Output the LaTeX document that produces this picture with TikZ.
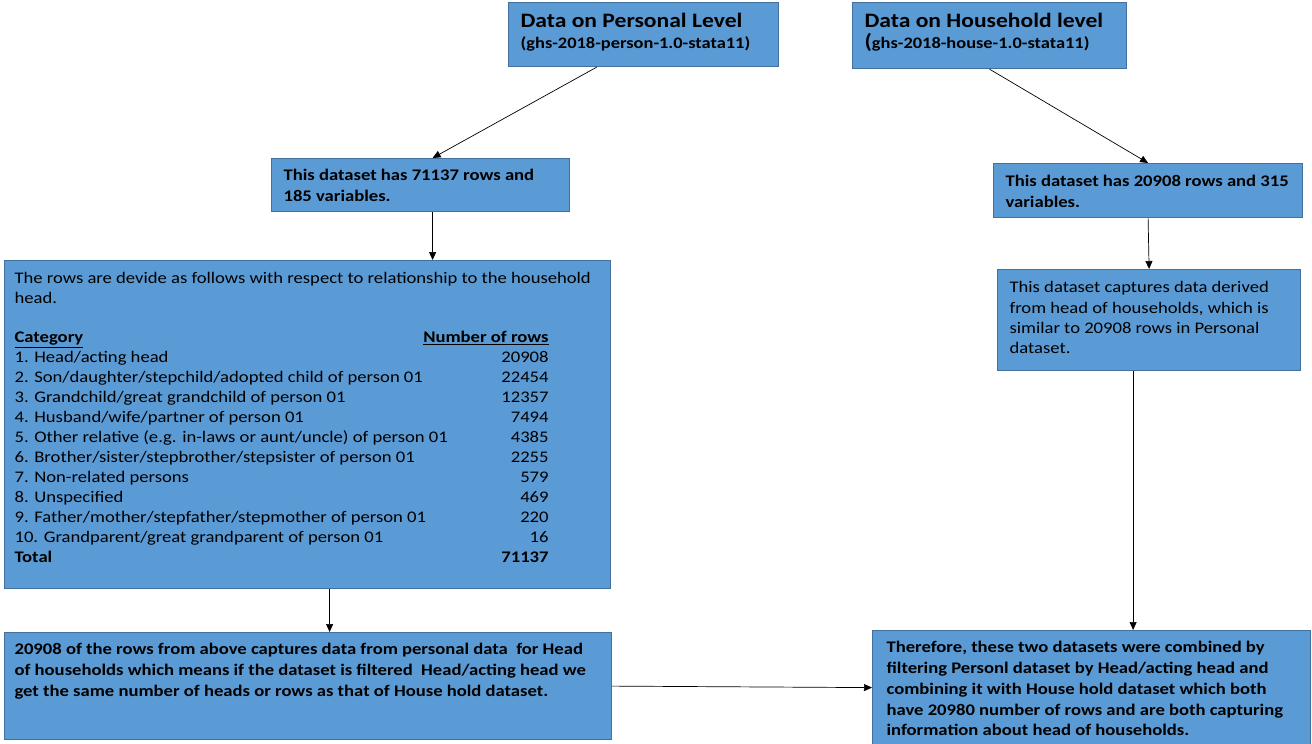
\documentclass[tikz,border=0pt]{standalone}
\usepackage{fontspec}
\setmainfont{Carlito}[FakeStretch=1.15]
\usetikzlibrary{arrows.meta,positioning,calc}
\definecolor{boxfill}{RGB}{91,155,213}
\definecolor{boxline}{RGB}{65,113,156}
% fixed-size text body inside a box
\newcommand\boxbody[3]{\begin{minipage}[c][#2][t]{#1}\raggedright #3\end{minipage}}

\begin{document}
\begin{tikzpicture}[x=1pt, y=-1pt, >={Triangle[length=8pt,width=7pt]},
  box/.style={draw=boxline, fill=boxfill, line width=1.2pt, anchor=north west,
    inner xsep=12pt, inner ysep=10pt, font=\fontsize{16.2}{20.7}\selectfont\bfseries},
  plain/.style={font=\fontsize{16.2}{20}\selectfont},
  link/.style={->, line width=0.7pt}]
\useasboundingbox (0,0) rectangle (1312,744);

\node[box, inner ysep=11pt] (pers) at (508,2) {\boxbody{246pt}{42pt}{%
  {\fontsize{20.5}{23.5}\selectfont Data on Personal Level}\\
  {\fontsize{16}{20}\selectfont (ghs-2018-person-1.0-stata11)}}};
\node[box, inner ysep=11pt] (hous) at (852,2) {\boxbody{250pt}{44pt}{%
  {\fontsize{20.5}{25}\selectfont Data on Household level}\\
  {\fontsize{20.5}{24}\selectfont (}{\fontsize{16}{20}\selectfont ghs-2018-house-1.0-stata11)}}};

\node[box, inner ysep=11pt] (prows) at (271,158) {\boxbody{274pt}{31pt}{%
  This dataset has 71137 rows and\\ 185 variables.}};
\node[box, inner ysep=12pt] (hrows) at (993,163) {\boxbody{285pt}{30pt}{%
  This dataset has 20908 rows and 315\\ variables.}};

\node[box, plain, inner xsep=10pt, inner ysep=12pt] (ptab) at (4,260) {\boxbody{586pt}{304pt}{%
  The rows are devide as follows with respect to relationship to the household\\
  head.\\[24pt]
  \begin{tabular*}{534pt}{@{}l@{\extracolsep{\fill}}r@{}}
  \underline{\textbf{Category}} & \llap{\underline{\textbf{Number of rows}}}\\
  1. Head/acting head & 20908\\
  2. Son/daughter/stepchild/adopted child of person 01 & 22454\\
  3. Grandchild/great grandchild of person 01 & 12357\\
  4. Husband/wife/partner of person 01 & 7494\\
  5. Other relative (e.g. in-laws or aunt/uncle) of person 01 & 4385\\
  6. Brother/sister/stepbrother/stepsister of person 01 & 2255\\
  7. Non-related persons & 579\\
  8. Unspecified & 469\\
  9. Father/mother/stepfather/stepmother of person 01 & 220\\
  10. Grandparent/great grandparent of person 01 & 16\\
  \textbf{Total} & \textbf{71137}\\
  \end{tabular*}}};
\node[box, plain, inner ysep=12pt] (hcap) at (997,269) {\boxbody{279pt}{77pt}{%
  \fontsize{16.2}{20.3}\selectfont
  This dataset captures data derived\\ from head of households, which is\\
  similar to 20908 rows in Personal\\ dataset.}};

\node[box, inner xsep=10pt, inner ysep=11pt] (pfilt) at (4,632) {\boxbody{587pt}{85pt}{%
  \fontsize{16.2}{21}\selectfont
  20908 of the rows from above captures data from personal data\ \ for Head\\
  of households which means if the dataset is filtered\ \ Head/acting head we\\
  get the same number of heads or rows as that of House hold dataset.}};
\node[box, inner xsep=14pt, inner ysep=11pt] (comb) at (872,630) {\boxbody{410pt}{92pt}{%
  Therefore, these two datasets were combined by\\
  filtering Personl dataset by Head/acting head and\\
  combining it with House hold dataset which both\\
  have 20980 number of rows and are both capturing\\
  information about head of households.}};

\draw[link] ([xshift=-47pt]pers.south) -- ([xshift=12pt]prows.north);
\draw[link] (hous.south) -- (hrows.north);
\draw[link] ([xshift=12pt]prows.south) -- ([xshift=12pt]prows.south |- ptab.north);
\draw[link] (hrows.south) -- (hcap.north);
\draw[link] ([xshift=22pt]ptab.south) -- ([xshift=22pt]ptab.south |- pfilt.north);
\draw[link] ([xshift=-16pt]hcap.south) -- ([xshift=-16pt]hcap.south |- comb.north);
\draw[link] (pfilt.east) -- (comb.west);
\end{tikzpicture}
\end{document}
